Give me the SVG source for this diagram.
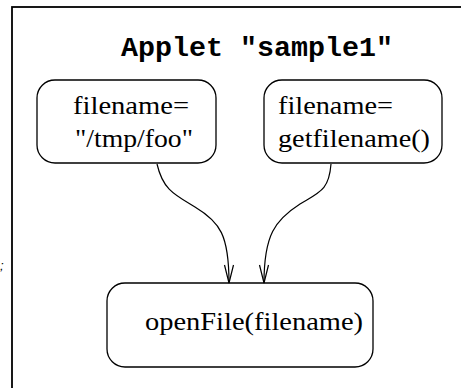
<svg xmlns="http://www.w3.org/2000/svg" width="461" height="388" viewBox="0 0 461 388">
<defs>
<style>
.box{fill:#fff;stroke:#000;stroke-width:1.3}
.edge{fill:none;stroke:#000;stroke-width:1.2}
.t{font-family:'Liberation Serif','Times New Roman',serif;font-size:25px}
</style>
<marker id="v" markerUnits="userSpaceOnUse" markerWidth="20" markerHeight="12" refX="18" refY="4.5" orient="auto" viewBox="0 0 20 12" overflow="visible">
<path d="M0,0 L18,4.5 L0,9" fill="none" stroke="#000" stroke-width="1.2"/>
</marker>
</defs>
<rect width="461" height="388" fill="#fff"/>
<g id="frame">
<rect x="12" y="7" width="520" height="420" fill="none" stroke="#000" stroke-width="1.8"/>
<text x="257" y="56" text-anchor="middle" font-family="'Liberation Mono','Courier New',monospace" font-weight="bold" font-size="27" textLength="272" lengthAdjust="spacingAndGlyphs">Applet "sample1"</text>
<text x="0" y="270" font-family="'Liberation Sans',Arial,sans-serif" font-style="italic" font-size="13">;</text>
</g>
<g id="node1">
<rect class="box" x="37" y="80" width="179" height="83" rx="18" ry="18"/>
<text class="t" x="73" y="114" textLength="116" lengthAdjust="spacingAndGlyphs">filename=</text>
<text class="t" x="75" y="147" textLength="118" lengthAdjust="spacingAndGlyphs">"/tmp/foo"</text>
</g>
<g id="node2">
<rect class="box" x="264" y="80" width="178" height="83" rx="18" ry="18"/>
<text class="t" x="278" y="114" textLength="115" lengthAdjust="spacingAndGlyphs">filename=</text>
<text class="t" x="278" y="147" textLength="152" lengthAdjust="spacingAndGlyphs">getfilename()</text>
</g>
<g id="node3">
<rect class="box" x="107" y="283" width="266" height="84" rx="18" ry="18"/>
<text class="t" x="145" y="330" textLength="218" lengthAdjust="spacingAndGlyphs">openFile(filename)</text>
</g>
<g id="connectors">
<path class="edge" marker-end="url(#v)" d="M157,164 C163,190 175,195 195,207 C220,222 229,235 229,283"/>
<path class="edge" marker-end="url(#v)" d="M331,164 C329,190 320,192 300,204 C275,220 264,235 264,283"/>
</g>
</svg>
